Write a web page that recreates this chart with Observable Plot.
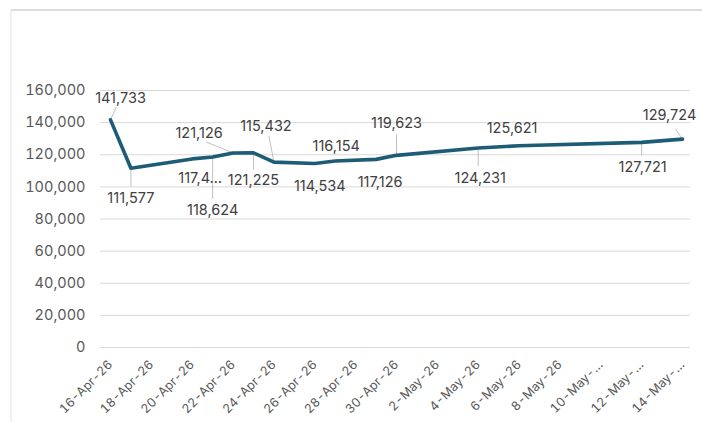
<!DOCTYPE html>
<html>
<head>
<meta charset="utf-8">
<script src="https://cdn.jsdelivr.net/npm/d3@7"></script>
<script src="https://cdn.jsdelivr.net/npm/@observablehq/plot@0.6"></script>
<style>
  html, body { margin: 0; padding: 0; background: #fff; }
  #wrap { position: relative; width: 702px; height: 422px; overflow: hidden; font-family: Inter, sans-serif; }
  #frameTop { position: absolute; left: 11px; top: 9px; width: 691px; height: 0; border-top: 2px solid #dcdcdc; }
  #frameLeft { position: absolute; left: 10px; top: 10px; width: 0; height: 412px; border-left: 2px solid #f0f0f0; }
  #chart { position: absolute; left: 0; top: 0; }
</style>
</head>
<body>
<div id="wrap">
  <div id="frameTop"></div>
  <div id="frameLeft"></div>
  <div id="chart"></div>
</div>
<script>
// ---- data ----
const dates = ["2026-04-16","2026-04-17","2026-04-20","2026-04-21","2026-04-22","2026-04-23","2026-04-24",
               "2026-04-26","2026-04-27","2026-04-29","2026-04-30","2026-05-04","2026-05-06","2026-05-12","2026-05-14"];
const values = [141733,111577,117412,118624,121126,121225,115432,114534,116154,117126,119623,124231,125621,127721,129724];
const labelTexts = ["141,733","111,577","117,4…","118,624","121,126","121,225","115,432","114,534","116,154","117,126","119,623","124,231","125,621","127,721","129,724"];
const tickDates = ["2026-04-16","2026-04-18","2026-04-20","2026-04-22","2026-04-24","2026-04-26","2026-04-28","2026-04-30",
                   "2026-05-02","2026-05-04","2026-05-06","2026-05-08","2026-05-10","2026-05-12","2026-05-14"];
const tickLabels = ["16-Apr-26","18-Apr-26","20-Apr-26","22-Apr-26","24-Apr-26","26-Apr-26","28-Apr-26","30-Apr-26",
                    "2-May-26","4-May-26","6-May-26","8-May-26","10-May-…","12-May-…","14-May-…"];
const yTicks = [0,20000,40000,60000,80000,100000,120000,140000,160000];

// ---- label layout (pixel offsets from each point) ----
const labelOffsets = [[10,-21],[0,30],[8,19],[0,53],[-34,-20],[0,28],[-8,-36],[5,23],[1,-15],[4,23],[0,-32],[2,30],[-7,-17],[1,25],[-13,-24]];
const leaderEnds = [[6,-13],[0,18],null,[0,42],[-27,-11],[0,17],[-5,-26],null,null,null,[0,-21],[0,18],null,[0,13],[-7,-10]];

const parse = d3.utcParse("%Y-%m-%d");
const data = dates.map((d, i) => ({date: parse(d), value: values[i], label: labelTexts[i], i}));
const ticks = tickDates.map(parse);
const tickFmt = new Map(ticks.map((t, i) => [+t, tickLabels[i]]));

const lineColor = "#1c5c76";
const textColor = "#404040";
const axisColor = "#595959";

const leaderMarks = data.filter((d, i) => leaderEnds[i]).map(d => Plot.link([d], {
  x1: "date", y1: "value", x2: "date", y2: "value",
  transform: null,
  stroke: "#b0b0b0", strokeWidth: 0.8,
  render: (index, scales, values, dims, ctx, next) => {
    const g = next(index, scales, values, dims, ctx);
    const e = leaderEnds[d.i];
    d3.select(g).selectAll("path").attr("d", function() {
      const x = scales.x(d.date), y = scales.y(d.value);
      return `M${x},${y}L${x + e[0]},${y + e[1]}`;
    });
    return g;
  }
}));

const labelMarks = data.map((d, i) => Plot.text([d], {
  x: "date", y: "value", text: "label",
  dx: labelOffsets[i][0], dy: labelOffsets[i][1],
  fill: textColor, fontSize: 14.5, lineAnchor: "middle", textAnchor: "middle"
}));

const chart = Plot.plot({
  width: 702,
  height: 422,
  marginTop: 90,
  marginBottom: 75,
  marginLeft: 100,
  marginRight: 12,
  style: {fontFamily: "Inter, sans-serif", background: "transparent", overflow: "visible"},
  x: {type: "utc", domain: [parse("2026-04-16"), parse("2026-05-14")], insetLeft: 10, insetRight: 8},
  y: {domain: [0, 160000]},
  marks: [
    Plot.ruleY(yTicks, {stroke: "#d9d9d9", strokeWidth: 1}),
    Plot.axisY(yTicks, {tickSize: 0, tickPadding: 15, fontSize: 14.5, fill: axisColor, label: null,
                        tickFormat: d3.format(",")}),
    Plot.axisX(ticks, {tickSize: 0, tickPadding: 15, tickRotate: -45, textAnchor: "end", lineAnchor: "middle",
                       fontSize: 12.5, fill: axisColor, label: null, tickFormat: t => tickFmt.get(+t)}),
    ...leaderMarks,
    Plot.line(data, {x: "date", y: "value", stroke: lineColor, strokeWidth: 3.6, strokeLinejoin: "round", strokeLinecap: "round"}),
    ...labelMarks
  ]
});
document.getElementById("chart").appendChild(chart);
</script>
</body>
</html>
